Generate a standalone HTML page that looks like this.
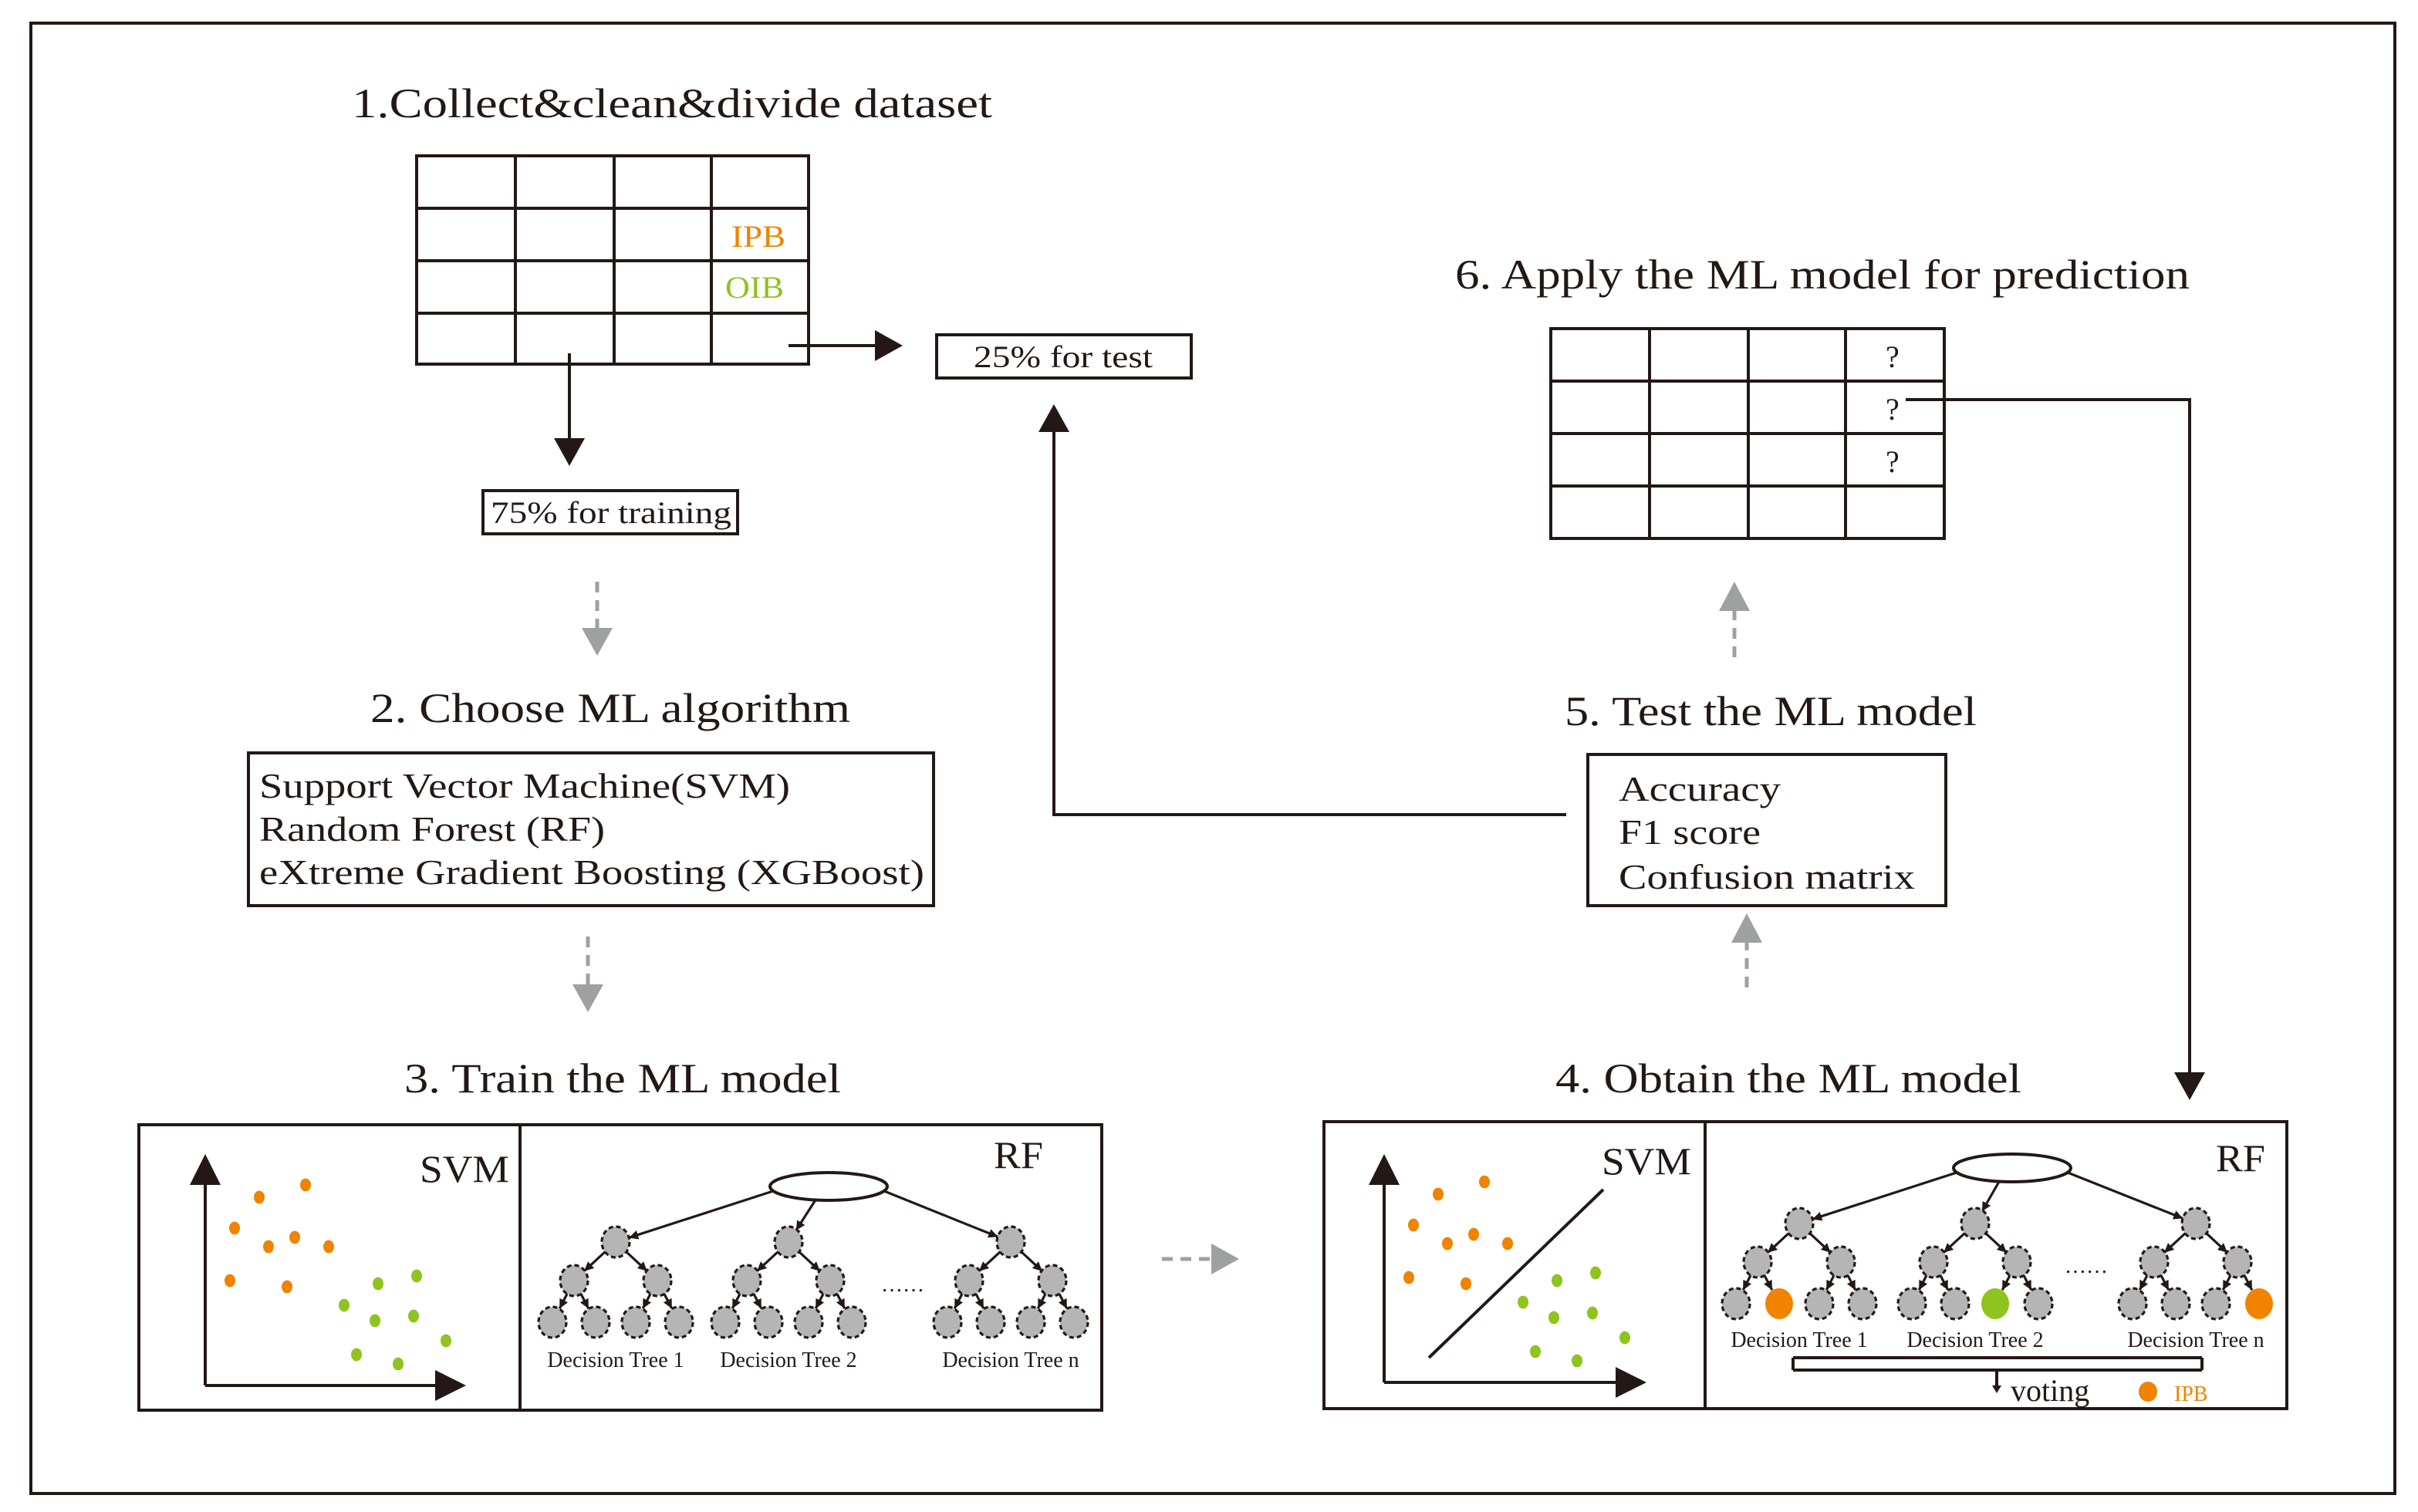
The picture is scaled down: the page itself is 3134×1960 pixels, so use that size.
<!DOCTYPE html>
<html><head><meta charset="utf-8"><style>
html,body{margin:0;padding:0;background:#fff}
svg{display:block}
text{font-family:"Liberation Serif",serif;fill:#231815}
</style></head><body>
<svg id="s" width="3134" height="1960" viewBox="0 0 1567 980" xmlns="http://www.w3.org/2000/svg">
<defs>
<marker id="ah" viewBox="0 0 10 10" refX="10" refY="5" markerWidth="5" markerHeight="5" markerUnits="userSpaceOnUse" orient="auto"><path d="M0,0L10,5L0,10z" fill="#231815"/></marker>
</defs>
<rect x="20" y="15" width="1532" height="953" fill="none" stroke="#231815" stroke-width="2"/>
<g stroke="#231815" fill="none" stroke-width="2">
<!-- table1 -->
<rect x="270" y="101" width="254" height="135"/>
<path d="M270 135H524M270 169H524M270 203H524M334 101V236M398 101V236M461 101V236"/>
<rect x="607" y="217" width="165" height="28"/>
<rect x="313" y="318" width="165" height="28"/>
<rect x="161" y="488" width="444" height="99"/>
<rect x="1029" y="489" width="232" height="98"/>
<rect x="1005" y="213" width="255" height="136"/>
<path d="M1005 247H1260M1005 281H1260M1005 315H1260M1069 213V349M1133 213V349M1196 213V349"/>
<rect x="90" y="729" width="624" height="185"/>
<path d="M337 729V914"/>
<rect x="858" y="727" width="624" height="186"/>
<path d="M1105 727V913"/>
<!-- connectors -->
<path d="M369 229V284"/><path d="M511 224H568"/>
<path d="M1015 528H683V280"/>
<path d="M1235 259H1419V695"/>
<!-- svm axes -->
<path d="M133 898V768M133 898H282"/>
<path d="M897 896V768M897 896H1047"/>
<path d="M926 880L1039 771"/>
</g>
<g fill="#231815">
<path d="M359 284L379 284L369 302z"/>
<path d="M567 214L585 224L567 234z"/>
<path d="M673 280L693 280L683 262z"/>
<path d="M1409 695L1429 695L1419 713z"/>
<path d="M123 768L143 768L133 748z"/>
<path d="M282 888L282 908L302 898z"/>
<path d="M887 768L907 768L897 748z"/>
<path d="M1047 886L1047 906L1067 896z"/>
</g>
<!-- gray dashed arrows -->
<g stroke="#9fa0a0" stroke-width="2.5" stroke-dasharray="7,5" fill="none">
<path d="M387 377V407"/><path d="M381 607V638"/><path d="M753 816H785"/>
<path d="M1132 640V611"/><path d="M1124 426V396"/>
</g>
<g fill="#9fa0a0">
<path d="M377 407L397 407L387 425z"/>
<path d="M371 638L391 638L381 656z"/>
<path d="M785 806L785 826L803 816z"/>
<path d="M1122 611L1142 611L1132 592z"/>
<path d="M1114 396L1134 396L1124 377z"/>
</g>
<!-- titles -->
<g font-size="27">
<text x="228" y="76" textLength="415" lengthAdjust="spacingAndGlyphs">1.Collect&amp;clean&amp;divide dataset</text>
<text x="240" y="468" textLength="311" lengthAdjust="spacingAndGlyphs">2. Choose ML algorithm</text>
<text x="262" y="708" textLength="283" lengthAdjust="spacingAndGlyphs">3. Train the ML model</text>
<text x="1008" y="708" textLength="302" lengthAdjust="spacingAndGlyphs">4. Obtain the ML model</text>
<text x="1014" y="470" textLength="267" lengthAdjust="spacingAndGlyphs">5. Test the ML model</text>
<text x="943" y="187" textLength="476" lengthAdjust="spacingAndGlyphs">6. Apply the ML model for prediction</text>
</g>
<g font-size="23">
<text x="168" y="517" textLength="344" lengthAdjust="spacingAndGlyphs">Support Vector Machine(SVM)</text>
<text x="168" y="545" textLength="224" lengthAdjust="spacingAndGlyphs">Random Forest (RF)</text>
<text x="168" y="573" textLength="431" lengthAdjust="spacingAndGlyphs">eXtreme Gradient Boosting (XGBoost)</text>
<text x="1049" y="519" textLength="105" lengthAdjust="spacingAndGlyphs">Accuracy</text>
<text x="1049" y="547" textLength="92" lengthAdjust="spacingAndGlyphs">F1 score</text>
<text x="1049" y="576" textLength="192" lengthAdjust="spacingAndGlyphs">Confusion matrix</text>
</g>
<g font-size="20">
<text x="631" y="238" textLength="116" lengthAdjust="spacingAndGlyphs">25%  for test</text>
<text x="318" y="339" textLength="156" lengthAdjust="spacingAndGlyphs">75%  for training</text>
<text x="474" y="160" style="fill:#f08300" textLength="35" lengthAdjust="spacingAndGlyphs">IPB</text>
<text x="470" y="193" style="fill:#8fc31f" textLength="38" lengthAdjust="spacingAndGlyphs">OIB</text>
<text x="1222" y="238">?</text><text x="1222" y="272">?</text><text x="1222" y="306">?</text>
</g>
<g font-size="25">
<text x="272" y="766" textLength="58" lengthAdjust="spacingAndGlyphs">SVM</text>
<text x="644" y="757" textLength="32" lengthAdjust="spacingAndGlyphs">RF</text>
<text x="1038" y="761" textLength="58" lengthAdjust="spacingAndGlyphs">SVM</text>
<text x="1436" y="759" textLength="32" lengthAdjust="spacingAndGlyphs">RF</text>
</g>
<g id="dyn"></g>
</svg>
<script>
var NS="http://www.w3.org/2000/svg",g=document.getElementById("dyn");
function el(t,a,txt){var e=document.createElementNS(NS,t);for(var k in a)e.setAttribute(k,a[k]);if(txt)e.textContent=txt;g.appendChild(e);return e;}
function dots(dx,dy){
 var o=[[168,776],[198,768],[152,796],[174,808],[191,802],[213,808],[149,830],[186,834]];
 var gr=[[245,832],[270,827],[223,846],[243,856],[268,853],[289,869],[231,878],[258,884]];
 o.forEach(function(p){el("ellipse",{cx:p[0]+dx,cy:p[1]+dy,rx:3.5,ry:4.2,fill:"#f08300"})});
 gr.forEach(function(p){el("ellipse",{cx:p[0]+dx,cy:p[1]+dy,rx:3.5,ry:4.2,fill:"#8fc31f"})});
}
dots(0,0);dots(764,-2);
function arrow(x1,y1,x2,y2,r){var dx=x2-x1,dy=y2-y1,l=Math.sqrt(dx*dx+dy*dy),ux=dx/l,uy=dy/l;
 var ex=x2-ux*r,ey=y2-uy*r;el("line",{x1:x1,y1:y1,x2:ex,y2:ey,stroke:"#231815","stroke-width":1.6});
 var bx=ex-ux*6,by=ey-uy*6;el("path",{d:"M"+ex+","+ey+"L"+(bx-uy*3)+","+(by+ux*3)+"L"+(bx+uy*3)+","+(by-ux*3)+"z",fill:"#231815"});}
function node(x,y,c){el("ellipse",{cx:x,cy:y,rx:9,ry:10,fill:c||"#b5b5b6",stroke:c?"none":"#231815","stroke-width":1.6,"stroke-dasharray":c?"":"3,2"});}
function forest(ex,ey,roots,ry,labY,colored,dotx){
 el("ellipse",{cx:ex,cy:ey,rx:38,ry:9,fill:"#fff",stroke:"#231815","stroke-width":2});
 roots.forEach(function(rx,i){
  var sx=i==0?ex-36:(i==1?ex-8:ex+36);arrow(sx,ey+(i==1?8:3),rx,ry,9);
  var l2=[rx-27,rx+27];
  l2.forEach(function(x2,j){arrow(rx,ry,x2,ry+25,9);[x2-14,x2+14].forEach(function(x3,k){arrow(x2,ry+25,x3,ry+52,10);});});
  node(rx,ry);var leaves=[];
  l2.forEach(function(x2){node(x2,ry+25);leaves.push(x2-14,x2+14);});
  leaves.forEach(function(x3,k){var c=null;if(colored){if(i==0&&k==1)c="#f08300";if(i==1&&k==2)c="#8fc31f";if(i==2&&k==3)c="#f08300";}node(x3,ry+52,c);});
  el("text",{x:rx,y:labY,"font-size":"14","text-anchor":"middle"},"Decision Tree "+(i==2?"n":(i+1)));
 });
 el("text",{x:dotx,y:ry+32,"font-size":"14","text-anchor":"middle"},"……");
}
forest(537,769,[399,511,655],805,886,false,585);
forest(1304,757,[1166,1280,1423],793,873,true,1352);
// voting bracket
el("path",{d:"M1162 880H1427M1162 888H1427M1162 880V888M1427 880V888M1294 888V900",stroke:"#231815","stroke-width":2,fill:"none"});
el("path",{d:"M1291 898L1297 898L1294 903z",fill:"#231815"});
el("text",{x:1303,y:908,"font-size":"20"},"voting");
el("ellipse",{cx:1392,cy:902,rx:6,ry:6.5,fill:"#f08300"});
el("text",{x:1409,y:908,"font-size":"14",style:"fill:#f08300"},"IPB");
</script>
</body></html>
